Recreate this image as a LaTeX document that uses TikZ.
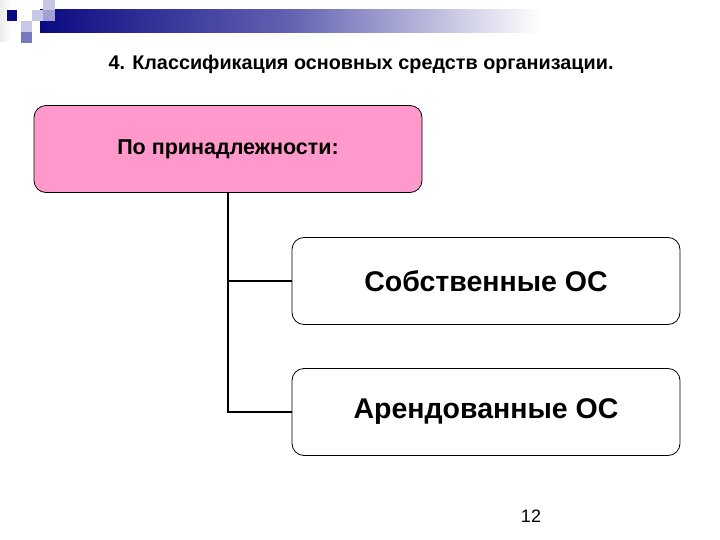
\documentclass[tikz,border=0pt]{standalone}
\usepackage{fontspec}
\setmainfont{Liberation Sans}
\definecolor{navy}{HTML}{0A0A82}
\definecolor{pinkbox}{HTML}{FF99CC}
\definecolor{lav1}{HTML}{C8C8E6}
\definecolor{lav2}{HTML}{A0A0D2}
\definecolor{lav3}{HTML}{7878BE}
\tikzset{
  box/.style={draw=black, line width=0.8pt, rounded corners=12pt, minimum width=388pt, minimum height=87pt, inner sep=0pt, font=\bfseries},
  conn/.style={line width=2.2pt, black},
}
\begin{document}
\begin{tikzpicture}[x=1pt,y=-1pt]
\useasboundingbox (0,0) rectangle (720,540);
% banner
\shade[left color=navy, right color=white, middle color=lav3!80!navy] (40,10) rectangle (540,33);
\fill[left color=gray!15, right color=white] (0,0) rectangle (12,42);
\fill[navy] (7,10) rectangle (17,21);
\fill[lav1] (43,0) rectangle (55,10);
\fill[lav1] (32,10) rectangle (43,21);
\fill[lav1] (21,21) rectangle (32,32);
\fill[lav3] (21,32) rectangle (32,43);
\fill[lav2] (43,10) rectangle (55,21);
\node[font=\bfseries\fontsize{19.8}{23}\selectfont] (title) at (361,64) {4. Классификация основных средств организации.};
\node[box, fill=pinkbox, font=\bfseries\fontsize{21.5}{25}\selectfont] (top) at (228,149) {По принадлежности:};
\node[box, fill=white, font=\bfseries\fontsize{28.5}{33}\selectfont] (own) at (486,281) {Собственные ОС};
\node[box, fill=white, font=\bfseries\fontsize{28.5}{33}\selectfont] (rent) at (486,412) {Арендованные ОС};
\coordinate (j1) at (top.south |- own.west);
\coordinate (j2) at (top.south |- rent.west);
\draw[conn] (top.south) -- (j2) -- (rent.west);
\draw[conn] (j1) -- (own.west);
\node[font=\fontsize{18}{21}\selectfont] (pg) at (531,516) {12};
\end{tikzpicture}
\end{document}
